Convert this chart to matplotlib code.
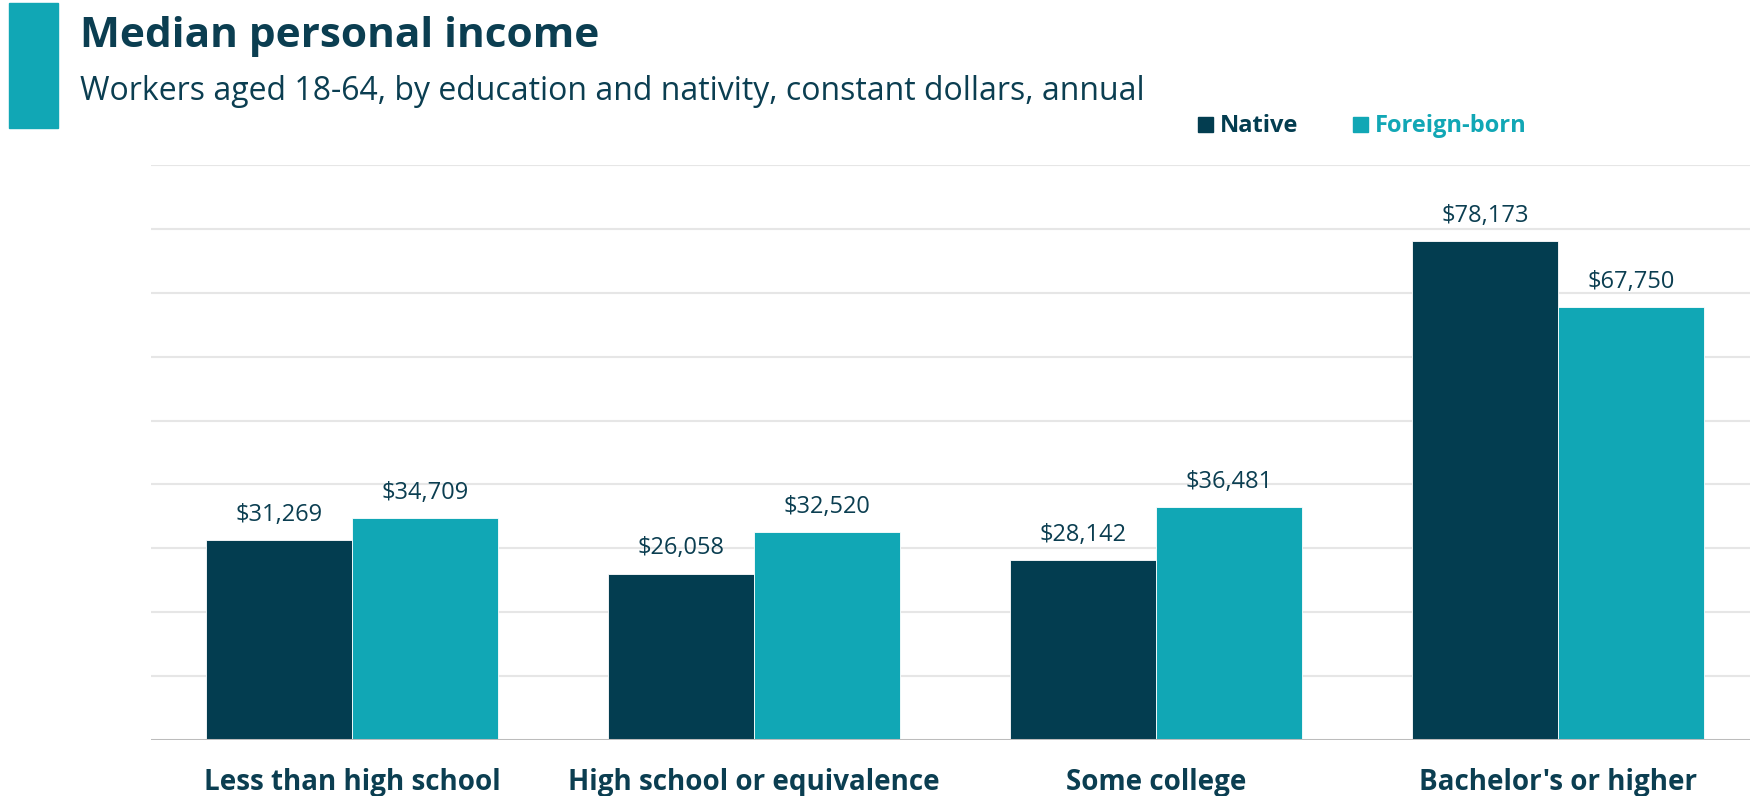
import matplotlib
matplotlib.use("Agg")
import matplotlib.pyplot as plt
from matplotlib.patches import Rectangle
import numpy as np

# chart data
categories = ["Less than high school", "High school or equivalence",
              "Some college", "Bachelor's or higher"]
native = [31269, 26058, 28142, 78173]
foreign_born = [34709, 32520, 36481, 67750]
series_names = ["Native", "Foreign-born"]

DARK = "#033d50"
TEAL = "#11a7b5"
TEXT = "#0b3e51"

plt.rcParams["font.family"] = ["Open Sans", "DejaVu Sans"]

W, H = 1750, 796
fig = plt.figure(figsize=(W / 100, H / 100), dpi=100)

# axes placed in pixel terms, right edge runs slightly past the figure
left, right, top, bottom = 151, 1759, 165, 740
ax = fig.add_axes([left / W, 1 - bottom / H, (right - left) / W, (bottom - top) / H])

x = np.arange(len(categories))
bw = 0.363
b1 = ax.bar(x - bw / 2, native, bw, color=DARK, edgecolor="white", linewidth=0.6, zorder=3)
b2 = ax.bar(x + bw / 2, foreign_born, bw, color=TEAL, edgecolor="white", linewidth=0.6, zorder=3)

ax.set_xlim(-0.5, 3.5)
ax.set_ylim(0, 90000)
for v in np.arange(10000, 90001, 10000):
    ax.axhline(v, color="#e6e6e6", lw=1.5, zorder=1)
ax.axhline(0, color="#bcbcbc", lw=2.2, zorder=4)

for spine in ax.spines.values():
    spine.set_visible(False)
ax.set_xticks([])
ax.set_yticks([])

# value labels above bars
for bars, vals in ((b1, native), (b2, foreign_born)):
    for rect, v in zip(bars, vals):
        ax.annotate(f"${v:,}", (rect.get_x() + rect.get_width() / 2, v),
                    xytext=(0, 13.7), textcoords="offset points",
                    ha="center", va="baseline", fontsize=17, color=TEXT)

# category labels
for xi, cat in zip(x, categories):
    ax.annotate(cat, (xi, 0), xycoords=("data", "axes fraction"),
                xytext=(0, -36), textcoords="offset points",
                ha="center", va="baseline", fontsize=20, fontweight="bold",
                color=TEXT)

# header
fig.patches.append(Rectangle((9 / W, 1 - 128 / H), 49 / W, 125 / H,
                             transform=fig.transFigure, color=TEAL))
fig.text(80 / W, 1 - 47 / H, "Median personal income", fontsize=30.5,
         fontweight="bold", color=TEXT, va="baseline")
fig.text(80 / W, 1 - 100 / H,
         "Workers aged 18-64, by education and nativity, constant dollars, annual",
         fontsize=23, color=TEXT, va="baseline")

# legend
for (sx, tx), name, col in zip(((1198, 1220), (1353, 1375)), series_names, (DARK, TEAL)):
    fig.patches.append(Rectangle((sx / W, 1 - 132 / H), 15 / W, 15 / H,
                                 transform=fig.transFigure, color=col))
    fig.text(tx / W, 1 - 132 / H, name, fontsize=17, fontweight="bold",
             color=col, va="baseline")

fig.savefig("out.png", dpi=100)
